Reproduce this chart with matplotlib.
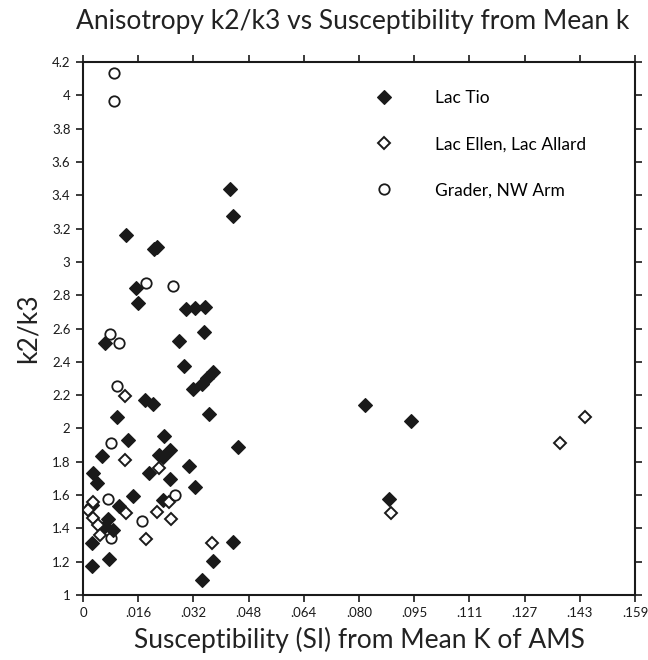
import matplotlib
matplotlib.use("Agg")
import matplotlib.pyplot as plt
import numpy as np

plt.rcParams['font.family'] = ['Lato', 'DejaVu Sans']

# Lac Tio (filled diamonds)
tio_k = [0.0423, 0.0431, 0.0125, 0.0204, 0.0214, 0.0154, 0.0158, 0.0296, 0.0323, 0.0351,
         0.0064, 0.0278, 0.0348, 0.0292, 0.0316, 0.0343, 0.0356, 0.0374, 0.0363, 0.0447,
         0.0180, 0.0203, 0.0097, 0.0130, 0.0055, 0.0232, 0.0219, 0.0231, 0.0251, 0.0191,
         0.0306, 0.0251, 0.0324, 0.0030, 0.0041, 0.0143, 0.0231, 0.0025, 0.0105, 0.0073,
         0.0064, 0.0086, 0.0025, 0.0027, 0.0076, 0.0431, 0.0375, 0.0343, 0.0812, 0.0946,
         0.0882]
tio_r = [3.437, 3.275, 3.159, 3.077, 3.091, 2.841, 2.751, 2.715, 2.723, 2.730,
         2.515, 2.527, 2.577, 2.375, 2.238, 2.268, 2.304, 2.337, 2.085, 1.890,
         2.173, 2.145, 2.070, 1.932, 1.834, 1.952, 1.838, 1.826, 1.872, 1.735,
         1.777, 1.696, 1.650, 1.730, 1.675, 1.592, 1.572, 1.540, 1.534, 1.455,
         1.412, 1.392, 1.310, 1.174, 1.217, 1.320, 1.206, 1.090, 2.140, 2.044,
         1.578]

# Lac Ellen, Lac Allard (open diamonds)
ellen_k = [0.0120, 0.0122, 0.0219, 0.0249, 0.0029, 0.0015, 0.0124, 0.0029, 0.0214,
           0.0255, 0.0044, 0.0048, 0.0183, 0.0372, 0.0886, 0.1373, 0.1447]
ellen_r = [2.196, 1.812, 1.764, 1.560, 1.560, 1.508, 1.490, 1.464, 1.500,
           1.455, 1.420, 1.360, 1.338, 1.310, 1.494, 1.911, 2.067]

# Grader, NW Arm (open circles)
grader_k = [0.0090, 0.0090, 0.0183, 0.0258, 0.0078, 0.0104, 0.0097, 0.0081,
            0.0073, 0.0265, 0.0169, 0.0081]
grader_r = [4.137, 3.965, 2.873, 2.855, 2.565, 2.512, 2.254, 1.914,
            1.575, 1.599, 1.444, 1.343]

xticks = np.linspace(0, 0.159, 11)
xticklabels = ['0', '.016', '.032', '.048', '.064', '.080', '.095', '.111', '.127', '.143', '.159']
yticks = np.arange(1.0, 4.21, 0.2)
yticklabels = ['1', '1.2', '1.4', '1.6', '1.8', '2', '2.2', '2.4', '2.6', '2.8',
               '3', '3.2', '3.4', '3.6', '3.8', '4', '4.2']

fig = plt.figure(figsize=(6.48, 6.60), dpi=100)
ax = fig.add_axes([0.128, 0.0985, 0.852, 0.8075])

ax.plot(tio_k, tio_r, linestyle='none', marker='D', ms=7.5, mfc='#1a1a1a', mec='#1a1a1a',
        mew=0.8, label='Lac Tio')
ax.plot(ellen_k, ellen_r, linestyle='none', marker='D', ms=6.5, mfc='white', mec='#1a1a1a',
        mew=1.4, label='Lac Ellen, Lac Allard')
ax.plot(grader_k, grader_r, linestyle='none', marker='o', ms=7.5, mfc='none', mec='#1a1a1a',
        mew=1.3, label='Grader, NW Arm')

ax.set_xlim(0, 0.159)
ax.set_ylim(1, 4.2)
ax.set_xticks(xticks)
ax.set_xticklabels(xticklabels)
ax.set_yticks(yticks)
ax.set_yticklabels(yticklabels)

for s in ax.spines.values():
    s.set_linewidth(1.5)
    s.set_color('#1a1a1a')
ax.tick_params(direction='out', length=5, width=1.2, colors='#1a1a1a', labelsize=9.5,
               top=True, right=True, labeltop=False, labelright=False, pad=4)

ax.set_xlabel('Susceptibility (SI) from Mean K of AMS', fontsize=19, color='#222222', labelpad=5)
ax.set_ylabel('k2/k3', fontsize=19, color='#222222', labelpad=8)
fig.text(0.545, 0.968, 'Anisotropy k2/k3 vs Susceptibility from Mean k', fontsize=19,
         color='#222222', ha='center', va='center')

ax.legend(loc='upper left', bbox_to_anchor=(0.515, 0.961), frameon=False, numpoints=1,
          fontsize=12.5, handlelength=1.1, handletextpad=2.4, labelspacing=1.75,
          borderaxespad=0)

fig.savefig('out.png', dpi=100)
